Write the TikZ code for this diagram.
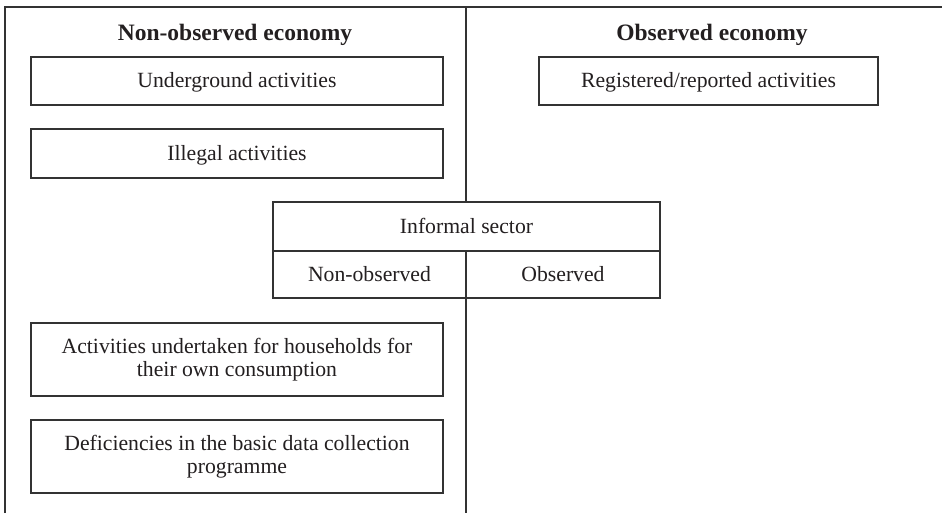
\documentclass[tikz,border=0pt]{standalone}
\usepackage{fontspec}
\setmainfont{Liberation Serif}
\definecolor{linec}{HTML}{333333}
\definecolor{textc}{HTML}{231F20}
\begin{document}
\begin{tikzpicture}[x=1pt,y=-1pt,
  box/.style={draw=linec, line width=1.2pt, fill=white, rectangle, inner sep=0pt,
    align=center, text=textc, font=\fontsize{21.7}{23.5}\selectfont},
  head/.style={inner sep=0pt, text=textc, font=\fontsize{23.5}{25}\selectfont\bfseries},
  frameline/.style={draw=linec, line width=1.2pt}
]
\useasboundingbox (0,0) rectangle (942,515);
% frame
\coordinate (tl) at (5,7);
\coordinate (tr) at (942,7);
\coordinate (bl) at (5,513);
\coordinate (mt) at (466,7);
\coordinate (mb) at (466,513);
\draw[frameline] (bl) -- (tl) -- (tr);
\draw[frameline] (mt) -- (mb);
% headings
\node[head] (hno) at (235,35) {Non-observed economy};
\node[head] (hob) at (712,35) {Observed economy};
% left boxes
\node[box, minimum width=412pt, minimum height=48pt, text depth=2pt] (under) at (237,81) {Underground activities};
\node[box, minimum width=412pt, minimum height=49pt, text depth=2pt] (illegal) at (237,153.5) {Illegal activities};
\node[box, minimum width=339pt, minimum height=48pt, text depth=2pt] (reg) at (708.5,81) {Registered/reported activities};
% informal sector
\node[box, minimum width=387pt, minimum height=49pt, text depth=2pt] (inf) at (466.5,226.5) {Informal sector};
\node[box, minimum width=193pt, minimum height=47pt, text depth=2pt] (infno) at (369.5,274.5) {Non-observed};
\node[box, minimum width=194pt, minimum height=47pt, text depth=2pt] (infob) at (563,274.5) {Observed};
% lower boxes
\node[box, minimum width=412pt, minimum height=73pt] (hh) at (237,359.5) {Activities undertaken for households for\\their own consumption};
\node[box, minimum width=412pt, minimum height=73pt] (def) at (237,456.5) {Deficiencies in the basic data collection\\programme};
\end{tikzpicture}
\end{document}
